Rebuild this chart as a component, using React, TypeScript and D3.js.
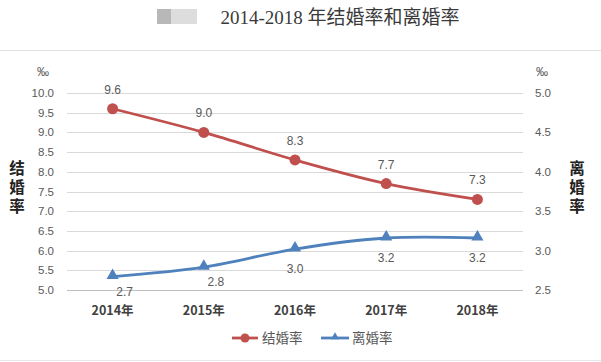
import React, { useEffect } from "react";
import * as d3 from "d3";

const years = ["2014年", "2015年", "2016年", "2017年", "2018年"];
const marriageRate = [9.6, 9.0, 8.3, 7.7, 7.3];
const divorceRate = [2.67, 2.79, 3.02, 3.16, 3.16];
const leftTicks = [5.0, 5.5, 6.0, 6.5, 7.0, 7.5, 8.0, 8.5, 9.0, 9.5, 10.0];
const rightTicks = [2.5, 3.0, 3.5, 4.0, 4.5, 5.0];

const RED = "#C0504D";
const BLUE = "#4F81BD";
const GRAY = "#595959";
const NUM_FONT = "'Liberation Sans', Arial, sans-serif";
const CJK_FONT = "'Noto Sans CJK SC', sans-serif";

const VerticalTitle: React.FC<{ x: number; y: number; label: string }> = ({ x, y, label }) => (
  <text x={x} y={y} fontSize={15.5} fontWeight="bold" fill="#222" fontFamily={CJK_FONT}
    style={{ writingMode: "vertical-rl", letterSpacing: "3.5px" }}>
    {label}
  </text>
);

const App: React.FC = () => {
  useEffect(() => {
    document.body.style.margin = "0";
  }, []);

  const width = 601;
  const height = 362;
  const plotLeft = 67;
  const plotRight = 523;
  const plotTop = 93;
  const plotBottom = 290;

  const x = d3.scaleBand().domain(years).range([plotLeft, plotRight]);
  const cx = (d: string) => x(d)! + x.bandwidth() / 2;
  const yL = d3.scaleLinear().domain([5, 10]).range([plotBottom, plotTop]);
  const yR = d3.scaleLinear().domain([2.5, 5]).range([plotBottom, plotTop]);

  const line = d3.line<[number, number]>().curve(d3.curveCatmullRom.alpha(0.5));
  const marriagePath = line(marriageRate.map((v, i) => [cx(years[i]), yL(v)]))!;
  const divorcePath = line(divorceRate.map((v, i) => [cx(years[i]), yR(v)]))!;
  const tri = d3.symbol().type(d3.symbolTriangle).size(64)()!;

  return (
    <svg width={width} height={height} style={{ display: "block", background: "#fff" }}>
      {/* header */}
      <rect x={157} y={9} width={40} height={15} fill="#d4d4d4" opacity={0.8} />
      <rect x={157} y={9} width={14} height={15} fill="#a8a8a8" opacity={0.7} />
      <text x={340} y={24} textAnchor="middle" fontSize={19} fill="#3a3a3a"
        fontFamily="'Liberation Serif', 'Noto Sans CJK SC', serif">
        2014-2018 年结婚率和离婚率
      </text>
      <line x1={0} x2={width} y1={50.5} y2={50.5} stroke="#e0e0e0" />
      <line x1={0} x2={width} y1={360.5} y2={360.5} stroke="#e6e6e6" />

      {/* grid */}
      {leftTicks.map((t) => (
        <line key={t} x1={plotLeft} x2={plotRight} y1={Math.round(yL(t)) + 0.5} y2={Math.round(yL(t)) + 0.5}
          stroke={t === 5 ? "#bfbfbf" : "#d9d9d9"} />
      ))}

      {/* left axis */}
      {leftTicks.map((t) => (
        <text key={t} x={54} y={yL(t) + 4} textAnchor="end" fontSize={11.5} fill={GRAY} fontFamily={NUM_FONT}>
          {t.toFixed(1)}
        </text>
      ))}
      <text x={43} y={76} textAnchor="middle" fontSize={12} fill={GRAY} fontFamily={NUM_FONT}>‰</text>
      <VerticalTitle x={17} y={160} label="结婚率" />

      {/* right axis */}
      {rightTicks.map((t) => (
        <text key={t} x={535} y={yR(t) + 4} textAnchor="start" fontSize={11.5} fill={GRAY} fontFamily={NUM_FONT}>
          {t.toFixed(1)}
        </text>
      ))}
      <text x={542} y={76} textAnchor="middle" fontSize={12} fill={GRAY} fontFamily={NUM_FONT}>‰</text>
      <VerticalTitle x={577} y={160} label="离婚率" />

      {/* x axis labels */}
      {years.map((yr) => (
        <text key={yr} x={cx(yr)} y={315} textAnchor="middle" fontSize={12.5} fontWeight="bold" fill="#404040" fontFamily={CJK_FONT}>
          {yr}
        </text>
      ))}

      {/* series */}
      <path d={marriagePath} fill="none" stroke={RED} strokeWidth={2.8} />
      <path d={divorcePath} fill="none" stroke={BLUE} strokeWidth={2.8} />
      {marriageRate.map((v, i) => (
        <g key={i}>
          <circle cx={cx(years[i])} cy={yL(v)} r={5.5} fill={RED} />
          <text x={cx(years[i])} y={yL(v) - 15} textAnchor="middle" fontSize={12} fill={GRAY} fontFamily={NUM_FONT}>
            {v.toFixed(1)}
          </text>
        </g>
      ))}
      {divorceRate.map((v, i) => (
        <g key={i}>
          <path d={tri} transform={`translate(${cx(years[i])},${yR(v) - 1})`} fill={BLUE} />
          <text x={cx(years[i]) + (i < 2 ? 12 : 0)} y={yR(v) + (i < 2 ? 19 : 24)} textAnchor="middle"
            fontSize={12} fill={GRAY} fontFamily={NUM_FONT}>
            {v.toFixed(1)}
          </text>
        </g>
      ))}

      {/* legend */}
      <line x1={232} x2={258} y1={338} y2={338} stroke={RED} strokeWidth={2.8} />
      <circle cx={245} cy={338} r={4.5} fill={RED} />
      <text x={262} y={343} fontSize={13.5} fill={GRAY} fontFamily={CJK_FONT}>结婚率</text>
      <line x1={321} x2={349} y1={338} y2={338} stroke={BLUE} strokeWidth={2.8} />
      <path d={d3.symbol().type(d3.symbolTriangle).size(28)()!} transform="translate(335,337)" fill={BLUE} />
      <text x={352} y={343} fontSize={13.5} fill={GRAY} fontFamily={CJK_FONT}>离婚率</text>
    </svg>
  );
};

export default App;
